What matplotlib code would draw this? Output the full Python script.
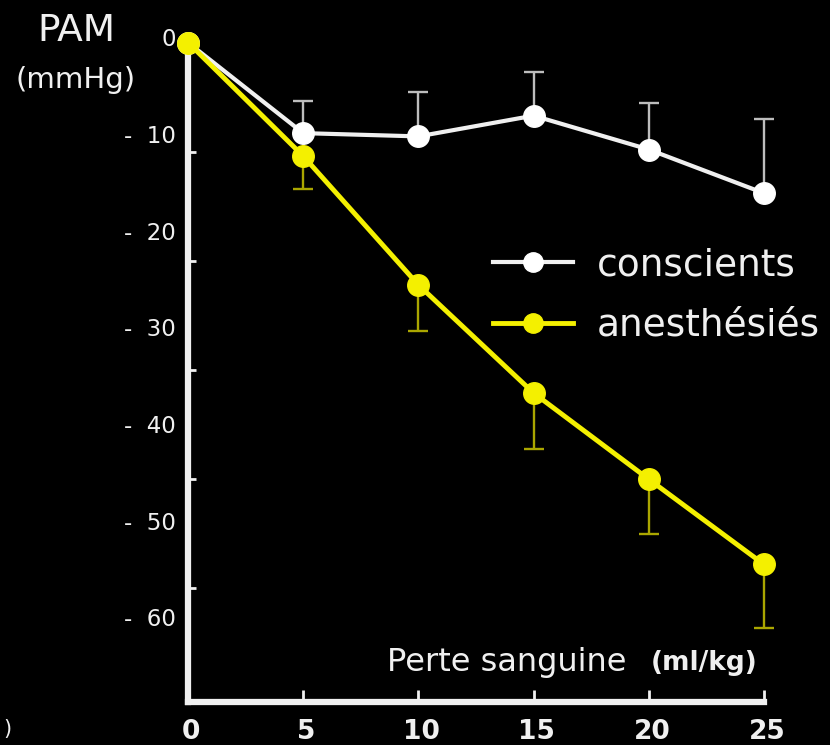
import matplotlib
matplotlib.use("Agg")
import matplotlib.pyplot as plt
from matplotlib.transforms import ScaledTranslation

# ---- data ----
perte = [0, 5, 10, 15, 20, 25]
conscients = [0, -8.3, -8.6, -6.7, -9.8, -13.8]
conscients_err = [0, 2.9, 4.1, 4.0, 4.3, 6.8]
anesthesies = [0, -10.4, -22.2, -32.1, -40.0, -47.8]
anesthesies_err = [0, 3.0, 4.2, 5.1, 5.0, 5.8]
x_ticks = [0, 5, 10, 15, 20, 25]
y_ticks = [-10, -20, -30, -40, -50]
y_label_values = [0, 10, 20, 30, 40, 50, 60]
y_label_texts = ["0", "-  10", "-  20", "-  30", "-  40", "-  50", "-  60"]
legend_labels = ["conscients", "anesthésiés"]

plt.rcParams['font.family'] = ['DejaVu Sans']

WHITE = '#f0f0f0'
YELLOW = '#f4f000'
YELLOW_ERR = '#aaa600'
WHITE_ERR = '#bdbdbd'

fig = plt.figure(figsize=(8.3, 7.45), dpi=100, facecolor='black')
ax = fig.add_axes([188/830, 43/745, (764-188)/830, (702-42.5)/745])
ax.set_facecolor('black')

# error bars (one-sided)
ax.errorbar(perte, conscients, yerr=[[0]*6, conscients_err], fmt='none',
            ecolor=WHITE_ERR, elinewidth=1.7, capsize=7, capthick=1.7, zorder=2, clip_on=False)
ax.errorbar(perte, anesthesies, yerr=[anesthesies_err, [0]*6], fmt='none',
            ecolor=YELLOW_ERR, elinewidth=1.7, capsize=7, capthick=1.7, zorder=2, clip_on=False)

l1, = ax.plot(perte, conscients, color=WHITE, lw=3, marker='o', ms=15.5,
              mfc='white', mec='white', zorder=3, clip_on=False, label=legend_labels[0])
l2, = ax.plot(perte, anesthesies, color=YELLOW, lw=3.5, marker='o', ms=15.5,
              mfc=YELLOW, mec=YELLOW, zorder=4, clip_on=False, label=legend_labels[1])

ax.set_xlim(0, 25)
ax.set_ylim(-60.4, 0)

for s in ['top', 'right']:
    ax.spines[s].set_visible(False)
for s in ['left', 'bottom']:
    ax.spines[s].set_color(WHITE)
    ax.spines[s].set_linewidth(4.5)
    ax.spines[s].set_capstyle('projecting')

ax.set_xticks(x_ticks)
ax.set_xticklabels([str(v) for v in x_ticks])
ax.tick_params(axis='x', direction='in', length=9, width=2, color=WHITE,
               labelcolor=WHITE, labelsize=19, pad=12)
for lbl in ax.get_xticklabels():
    lbl.set_fontweight('bold')
    lbl.set_transform(lbl.get_transform() + ScaledTranslation(3/100, 0, fig.dpi_scale_trans))

ax.set_yticks(y_ticks)
ax.tick_params(axis='y', direction='in', length=6, width=2, color=WHITE,
               labelleft=False)

# y labels (placed as on the slide, slightly offset from tick marks)
label_scale = 0.885
for v, t in zip(y_label_values, y_label_texts):
    ax.annotate(t, xy=(0, -v * label_scale + 0.23), xycoords=('axes fraction', 'data'),
                xytext=(-9, 0), textcoords='offset points', ha='right', va='center',
                color=WHITE, fontsize=16.5, annotation_clip=False)

# axis titles
fig.text(76/830, 1 - 31/745, "PAM", color=WHITE, fontsize=27, ha='center', va='center')
fig.text(76/830, 1 - 80/745, "(mmHg)", color=WHITE, fontsize=21, ha='center', va='center')
fig.text(387/830, 1 - 663/745, "Perte sanguine", color=WHITE, fontsize=23, ha='left', va='center')
fig.text(757/830, 1 - 663/745, "(ml/kg)", color=WHITE, fontsize=19, fontweight='bold',
         ha='right', va='center')
fig.text(3/830, 1 - 729/745, ")", color=WHITE, fontsize=15, ha='left', va='center')

leg = ax.legend(handles=[l1, l2], loc='upper left', bbox_to_anchor=(493/830, 1 - 247/745),
                bbox_transform=fig.transFigure, frameon=False, fontsize=27,
                handlelength=2.13, handletextpad=0.64, labelspacing=0.66,
                borderpad=0, borderaxespad=0, labelcolor=WHITE, numpoints=1,
                markerscale=0.9)

fig.savefig("out.png", dpi=100, facecolor='black')
